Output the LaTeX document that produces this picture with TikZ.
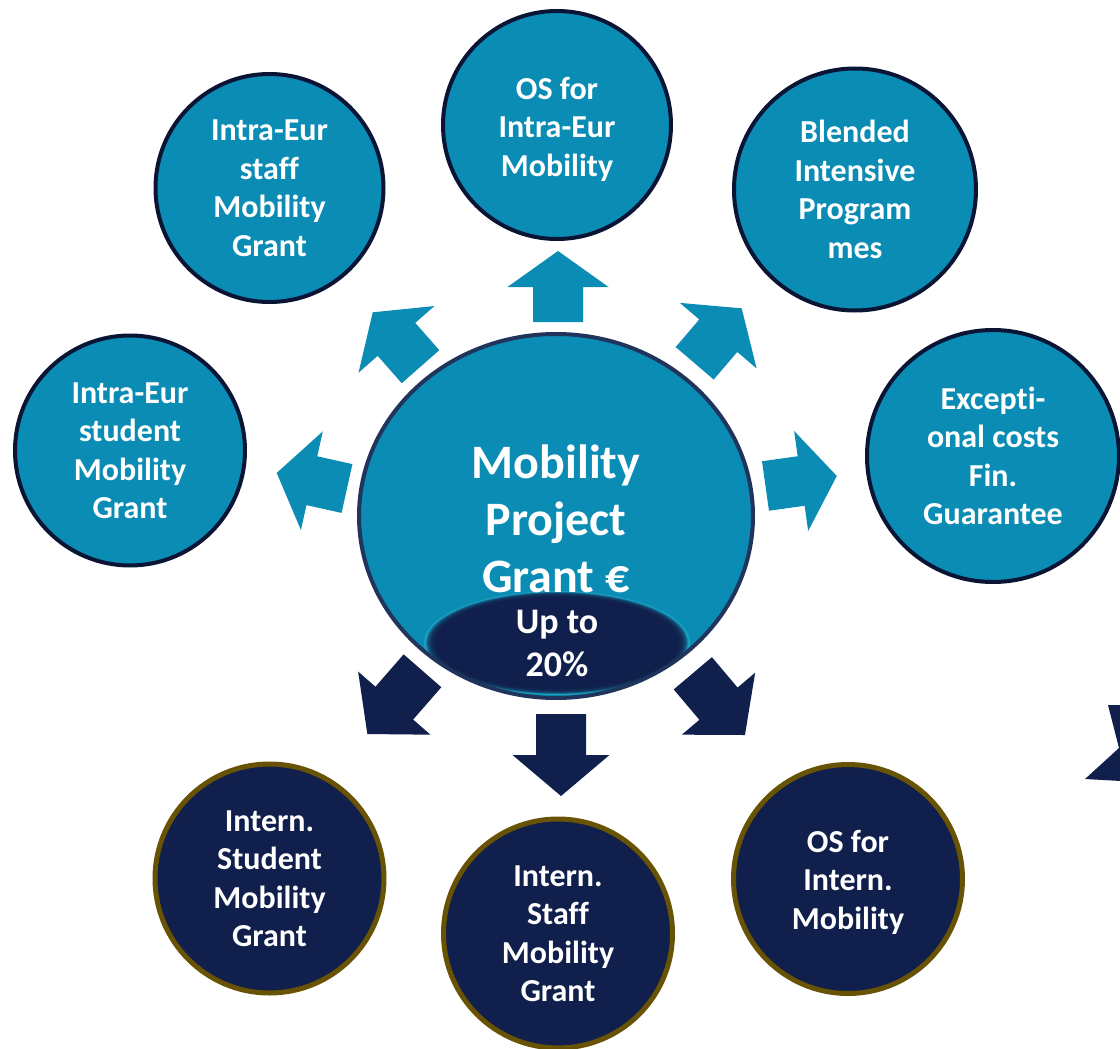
\documentclass[tikz,border=0pt]{standalone}
\usepackage{fontspec}
\setmainfont{Carlito}[Ligatures={NoCommon,NoRequired,NoContextual}]
\usetikzlibrary{shapes.geometric}
\definecolor{mpteal}{RGB}{11,140,180}
\definecolor{mpnavy}{RGB}{16,31,75}
\definecolor{mpborder}{RGB}{10,20,52}
\definecolor{mpring}{RGB}{32,52,92}
\definecolor{mpolive}{RGB}{104,82,4}
\tikzset{
  lbl/.style={text=white, align=center, font=\bfseries\fontsize{32}{38.5}\selectfont},
  lightc/.style={circle, draw=mpborder, line width=4pt, fill=mpteal, inner sep=0pt, lbl},
  darkc/.style={circle, draw=mpolive, line width=5pt, fill=mpnavy, inner sep=0pt, lbl},
}
\newcommand\blockarr[7]{%
  \begin{scope}[shift={(#2,#3)}, rotate=#4]
    \fill[#1] (0,-25) -- ({#5-#6},-25) -- ({#5-#6},{-#7/2}) -- (#5,0)
      -- ({#5-#6},{#7/2}) -- ({#5-#6},25) -- (0,25) -- cycle;
  \end{scope}}
\begin{document}
\begin{tikzpicture}[x=1pt,y=-1pt]
\useasboundingbox (0,0) rectangle (1120,1049);
\clip (0,0) rectangle (1120,1049);
\fill[white] (0,0) rectangle (1120,1049);

% outer circles
\node[lightc, minimum size=228pt] (staffeu) at (269.5,188) {Intra-Eur\\staf\kern0pt f\\Mobility\\Grant};
\node[lightc, minimum size=228pt, label={[lbl, yshift=-4pt]center:{OS for\\Intra-Eur\\Mobility}}] (oseu) at (557,125) {};
\node[lightc, minimum size=242pt] (bip) at (855,189.5) {Blended\\Intensive\\Program\\mes};
\node[lightc, minimum size=252pt] (exc) at (993,456) {Except\kern0pt i-\\onal costs\\Fin.\\Guarantee};
\node[lightc, minimum size=230pt] (studeu) at (130,450.5) {Intra-Eur\\student\\Mobility\\Grant};
\node[darkc, minimum size=229pt] (studin) at (269.5,878.5) {Intern.\\Student\\Mobility\\Grant};
\node[darkc, minimum size=229pt] (staffin) at (558,933.5) {Intern.\\Staf\kern0pt f\\Mobility\\Grant};
\node[darkc, minimum size=229pt, label={[lbl, yshift=-3pt]center:{OS for\\Intern.\\Mobility}}] (osin) at (848,879) {};

% arrows
\blockarr{mpteal}{558}{322}{90}{71}{36}{101}
\blockarr{mpteal}{694.7}{363.3}{49.5}{72.3}{36}{101}
\blockarr{mpteal}{765.5}{486}{8}{72}{36}{101}
\blockarr{mpteal}{347}{488.5}{167.5}{72}{36}{101}
\blockarr{mpteal}{420.5}{366.7}{131.3}{72.4}{36}{101}
\blockarr{mpnavy}{422.5}{670.8}{228.9}{83.9}{41}{96}
\blockarr{mpnavy}{561}{714}{-90}{82}{41}{97}
\blockarr{mpnavy}{692.8}{673.3}{-49.8}{80.8}{41}{96}
\fill[mpnavy] (1108,705) -- (1121,705) -- (1121,781) -- (1085,779) -- (1119,748) -- cycle;

% centre
\node[ellipse, draw=mpring, line width=4pt, fill=mpteal, minimum width=394pt, minimum height=364pt, inner sep=0pt] (hub) at (556,516) {};
\begin{scope}
  \clip (556,516) ellipse (195pt and 180pt);
  \fill[mpteal!60!cyan!80!white, opacity=0.35] (557,643) ellipse (133pt and 52pt);
  \foreach \i in {0,...,7}
    \fill[mpnavy, opacity=0.3] (557,643) ellipse ({131-\i*1.1} and {51-\i*0.55});
  \fill[mpnavy] (557,643) ellipse (122pt and 46pt);
\end{scope}
\node[text=white, align=center, font=\bfseries\fontsize{48}{57}\selectfont] (title) at (556,519) {Mobility\\Project\\Grant €};
\node[text=white, align=center, font=\bfseries\fontsize{36}{43}\selectfont] (share) at (557,643) {Up to\\20\%};
\end{tikzpicture}
\end{document}
